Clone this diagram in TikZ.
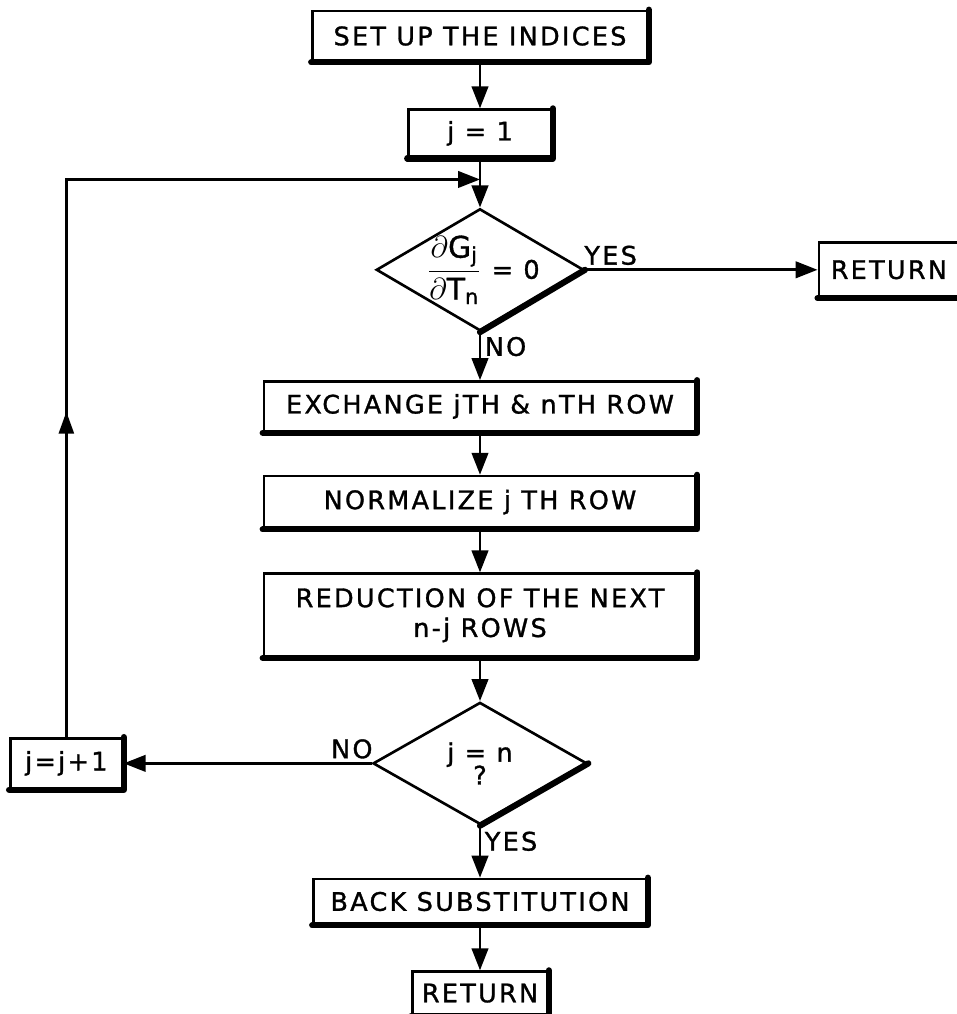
\documentclass[tikz,border=0pt]{standalone}
\usepackage{amsmath}
\usepackage{fontspec}
\setmainfont{DejaVu Sans}[LetterSpace=9, FakeBold=1.2]
\usetikzlibrary{positioning,shapes.geometric,arrows.meta,decorations.markings}

\begin{document}
\begin{tikzpicture}[node distance=0.9cm, font=\fontsize{14.5}{17}\selectfont]
\tikzset{
    block/.style={rectangle, draw, line width=1.5pt, minimum height=1.0cm, align=center, inner sep=2pt},
    decision/.style={diamond, draw, line width=1.5pt, inner sep=-3pt, aspect=1.7, align=center},
    arrow/.style={-{Triangle[length=0.44cm, width=0.33cm]}, line width=1.5pt},
    rim/.style={line width=3.5pt, line cap=round, line join=round},
    lbl/.style={inner sep=2pt},
    upmark/.style={postaction=decorate, decoration={markings, mark=at position 0.335 with {\arrow{Triangle[length=0.44cm, width=0.3cm]}}}}
}
\useasboundingbox (0,0) rectangle (19.14,-20.28);
\node[block, minimum width=6.7cm] (setup) at (9.6,-0.72) {SET UP THE INDICES};
\node[block, minimum width=2.86cm, minimum height=0.95cm, below=0.92cm of setup] (jone) {j = 1};
\node[decision, minimum width=4.12cm, minimum height=2.4cm, below=0.98cm of jone] (zero) {\hspace{4pt}{\fontsize{17}{20}\selectfont$\dfrac{\partial\mathrm{G}_{\mathrm{j}}}{\partial\mathrm{T}_{\mathrm{n}}}$} = 0};
\node[block, minimum width=2.8cm, minimum height=1.08cm, right=4.65cm of zero] (exit) {RETURN};
\node[block, minimum width=8.64cm, minimum height=1.0cm, below=0.96cm of zero] (swap) {EXCHANGE jTH \& nTH ROW};
\node[block, minimum width=8.64cm, minimum height=1.04cm, below=0.84cm of swap] (norm) {NORMALIZE j TH ROW};
\node[block, minimum width=8.64cm, minimum height=1.66cm, below=0.86cm of norm] (reduce) {REDUCTION OF THE NEXT\\ n-j ROWS};
\node[decision, minimum width=4.28cm, minimum height=2.44cm, below=0.86cm of reduce] (last) {j = n\\[-4pt]?};
\node[block, minimum width=2.24cm, left=4.96cm of last] (next) {j=j+1};
\node[block, minimum width=6.66cm, minimum height=0.9cm, below=1.04cm of last] (back) {BACK SUBSTITUTION};
\node[block, minimum width=2.7cm, minimum height=0.86cm, below=0.9cm of back] (done) {RETURN};
\coordinate[below=0.42cm of jone] (join);

\draw[arrow] (setup) -- (jone);
\draw[arrow] (jone) -- (zero);
\draw[arrow] (zero) -- node[lbl, above, pos=0.11]{YES} (exit);
\draw[arrow] (zero) -- node[lbl, right, pos=0.3]{NO} (swap);
\draw[arrow] (swap) -- (norm);
\draw[arrow] (norm) -- (reduce);
\draw[arrow] (reduce) -- (last);
\draw[arrow] (last) -- node[lbl, above, pos=0.08]{NO} (next);
\draw[arrow] (last) -- node[lbl, right, pos=0.3]{YES} (back);
\draw[arrow] (back) -- (done);
\draw[arrow, upmark] (next) |- (join);

% heavy lower right edges
\foreach \n in {setup,jone,exit,swap,norm,reduce,next,back,done}
    \draw[rim] (\n.north east) |- (\n.south west);
\foreach \n in {zero,last}
    \draw[rim] (\n.east) -- (\n.south);
\end{tikzpicture}
\end{document}
